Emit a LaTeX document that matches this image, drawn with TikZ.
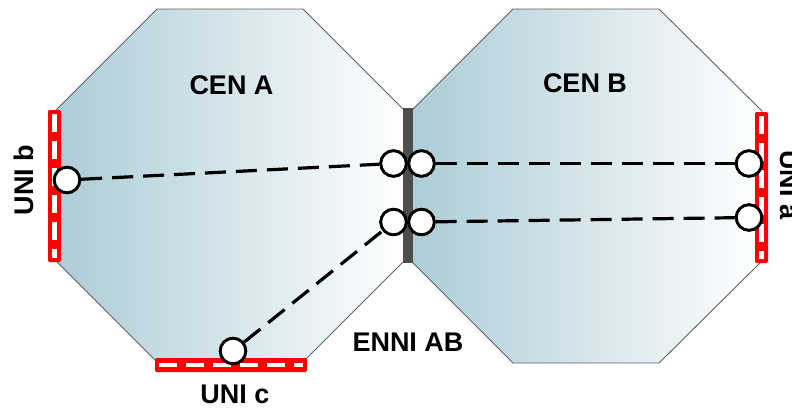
\documentclass[tikz,border=0pt]{standalone}
\usepackage{fontspec}
\setmainfont{Liberation Sans}
\definecolor{cenblue}{RGB}{172,204,214}
\definecolor{cenedge}{RGB}{96,96,96}
\definecolor{ennigray}{RGB}{77,77,77}
\definecolor{unired}{RGB}{255,0,0}
\begin{document}
\begin{tikzpicture}[x=1pt,y=-1pt,
  octo/.style={draw=cenedge,line width=0.9pt,left color=cenblue,right color=white},
  port/.style={circle,draw=black,fill=white,line width=2.8pt,minimum size=25.5pt,inner sep=0pt},
  evc/.style={line width=3.2pt,dash pattern=on 21pt off 10pt},
  unibar/.style={fill=unired,draw=unired,line width=1pt,rounded corners=1pt},
  unidash/.style={white,line width=4.5pt,dash pattern=on 18pt off 9pt},
  lbl/.style={font=\bfseries\fontsize{27}{31}\selectfont,inner sep=0pt}]
\useasboundingbox (0,0) rectangle (792,410);
% octagons
\shade[octo] (157,9) -- (303,9) -- (405,111) -- (405,260) -- (303,362) -- (157,362) -- (55,260) -- (55,111) -- cycle;
\shade[octo] (513,9) -- (659,9) -- (762,111) -- (762,261) -- (659,363) -- (513,363) -- (411,261) -- (411,111) -- cycle;
% ENNI bar
\fill[ennigray] (403,108) rectangle (413,263);
% UNI bars
\filldraw[unibar] (48.5,110.5) rectangle (60.5,261.5);
\draw[unidash] (54.5,114) -- (54.5,258);
\filldraw[unibar] (755.5,112.5) rectangle (767.5,262.5);
\draw[unidash] (761.5,116) -- (761.5,259);
\filldraw[unibar] (155.5,358.5) rectangle (306.5,371.5);
\draw[unidash] (159,365) -- (303,365);
% ports
\node[port] (ub)  at (67,180) {};
\node[port] (ea1) at (393.5,163.5) {};
\node[port] (ea2) at (393.5,222) {};
\node[port] (eb1) at (421.5,163.5) {};
\node[port] (eb2) at (421.5,222) {};
\node[port] (ua1) at (749,163.5) {};
\node[port] (ua2) at (749,217.5) {};
\node[port] (uc)  at (233,351) {};
% EVC lines
\draw[evc] (ub) -- (ea1);
\draw[evc] (uc) -- (ea2);
\draw[evc] (eb1) -- (ua1);
\draw[evc] (eb2) -- (ua2);
% redraw ports on top
\foreach \n in {ub,ea1,ea2,eb1,eb2,ua1,ua2,uc}{\path (\n.center) node[port] {};}
% labels
\node[lbl] (cena) at (231.5,85) {CEN A};
\node[lbl] (cenb) at (585,83) {CEN B};
\node[lbl] (enni) at (408,342) {ENNI AB};
\node[lbl] (unic) at (235,394) {UNI c};
\node[lbl,rotate=90] (unib) at (23.5,180) {UNI b};
\node[lbl,rotate=-90] (unia) at (790,185) {UNI a};
\end{tikzpicture}
\end{document}
